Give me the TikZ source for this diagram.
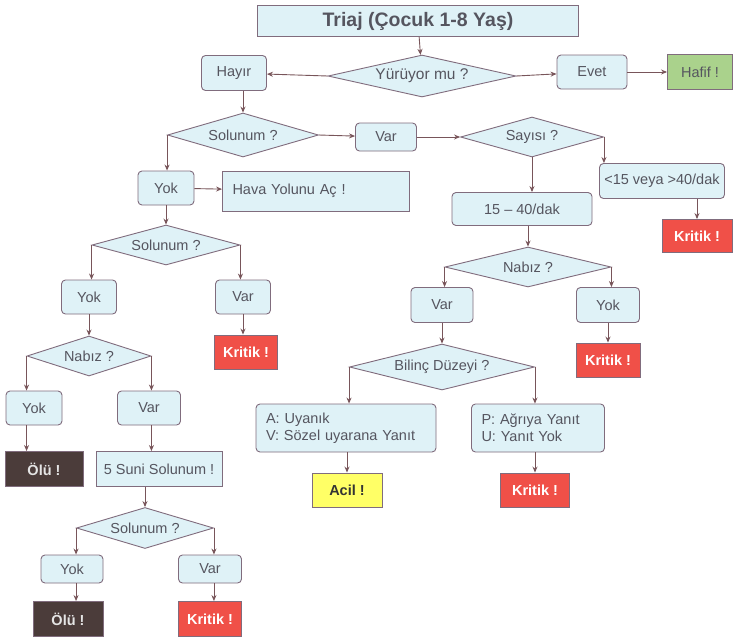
\documentclass[tikz,border=0pt]{standalone}
\usepackage{fontspec}
\setmainfont{Liberation Sans}
\usetikzlibrary{shapes.geometric, arrows.meta}
\definecolor{boxfill}{RGB}{223,242,247}
\definecolor{edge}{RGB}{128,108,125}
\definecolor{arrowc}{RGB}{120,85,90}
\definecolor{txt}{RGB}{85,85,95}
\definecolor{kritikred}{RGB}{240,80,72}
\definecolor{oludark}{RGB}{75,60,58}
\definecolor{acilyellow}{RGB}{255,255,102}
\definecolor{hafifgreen}{RGB}{170,210,140}
\newcommand\flowfont{\fontsize{14.5}{17}\selectfont}

\begin{document}
\begin{tikzpicture}[
    x=1pt, y=-1pt,
    box/.style={draw=edge, line width=0.9pt, fill=boxfill, rounded corners=4pt, text=txt, inner sep=0pt, font=\flowfont},
    dia/.style={diamond, aspect=4, draw=edge, line width=0.9pt, fill=boxfill, text=txt, inner sep=0pt, font=\flowfont},
    res/.style={draw=edge, line width=0.9pt, inner sep=0pt, font=\flowfont\bfseries},
    kritik/.style={res, fill=kritikred, text=white, minimum width=64, minimum height=34},
    olu/.style={res, fill=oludark, text=white!90!black},
    arr/.style={draw=arrowc, line width=0.9pt, -{Stealth[length=6pt, width=5pt]}}
]
  \fill[white] (0,0) rectangle (737,638);
  \useasboundingbox (0,0) rectangle (737,638);

  % --- TOP ---
  \node[box, rounded corners=0pt, minimum width=321, minimum height=31, font=\fontsize{19.5}{22}\selectfont\bfseries] (title) at (418,21) {Triaj (Çocuk 1-8 Yaş)};
  \node[dia, minimum width=188, minimum height=42, font=\fontsize{15.5}{18}\selectfont] (yuruyor) at (422,76) {Yürüyor mu ?};
  \node[box, minimum width=65, minimum height=35] (hayir) at (234,73) {Hayır};
  \node[box, minimum width=70, minimum height=34] (evet) at (592,72) {Evet};
  \node[res, fill=hafifgreen, text=txt, font=\flowfont, minimum width=65, minimum height=35] (hafif) at (700,72) {Hafif !};

  % --- FIRST SOLUNUM ---
  \node[dia, minimum width=151, minimum height=44] (sol1) at (243,135) {Solunum ?};
  \node[box, minimum width=61, minimum height=28] (var1) at (386,137) {Var};
  \node[box, minimum width=56, minimum height=34] (yok1) at (166,188) {Yok};
  \node[box, rounded corners=0pt, text width=167, align=left, inner xsep=10pt, minimum height=40] (hava) at (316,191) {Hava Yolunu Aç !};

  % --- RIGHT SECTION ---
  \node[dia, minimum width=143, minimum height=40] (sayisi) at (532,137) {Sayısı ?};
  \node[box, minimum width=125, minimum height=35] (hizli) at (662,181) {<15 veya >40/dak};
  \node[kritik, minimum width=70, minimum height=33] (kritikA) at (697,236) {Kritik !};
  \node[box, minimum width=140, minimum height=33] (normal) at (522,209) {15 – 40/dak};
  \node[dia, minimum width=166, minimum height=40] (nabiz2) at (528,267) {Nabız ?};
  \node[box, minimum width=62, minimum height=35] (var5) at (442,305) {Var};
  \node[box, minimum width=63, minimum height=35] (yok5) at (608,305) {Yok};
  \node[kritik] (kritikD) at (608,360) {Kritik !};
  \node[dia, minimum width=185, minimum height=46] (bilinc) at (442,367) {Bilinç Düzeyi ?};
  \node[box, text width=160, align=left, inner xsep=10pt, minimum height=48] (av) at (346,428) {A: Uyanık\\V: Sözel uyarana Yanıt};
  \node[box, text width=113, align=left, inner xsep=10pt, minimum height=48] (pu) at (538,428) {P: Ağrıya Yanıt\\U: Yanıt Yok};
  \node[res, fill=acilyellow, text=black!80, minimum width=70, minimum height=34] (acil) at (347,490) {Acil !};
  \node[kritik, minimum width=69] (kritikE) at (535,490) {Kritik !};

  % --- LEFT SECTION ---
  \node[dia, minimum width=148, minimum height=40] (sol2) at (166,245) {Solunum ?};
  \node[box, minimum width=55, minimum height=34] (yok2) at (89,297) {Yok};
  \node[box, minimum width=55, minimum height=34] (var2) at (243,297) {Var};
  \node[kritik, minimum width=63] (kritikB) at (246,352) {Kritik !};
  \node[dia, minimum width=124, minimum height=40] (nabiz1) at (89,356) {Nabız ?};
  \node[box, minimum width=56, minimum height=34] (yok3) at (34,408) {Yok};
  \node[box, minimum width=63, minimum height=34] (var3) at (149,408) {Var};
  \node[olu, minimum width=78, minimum height=35] (olu1) at (44,469) {Ölü !};
  \node[box, rounded corners=0pt, minimum width=126, minimum height=35] (suni) at (159,469) {5 Suni Solunum !};
  \node[dia, minimum width=137, minimum height=41] (sol3) at (145,528) {Solunum ?};
  \node[box, minimum width=62, minimum height=28] (yok4) at (72,569) {Yok};
  \node[box, minimum width=63, minimum height=28] (var4) at (210,569) {Var};
  \node[olu, minimum width=70, minimum height=35] (olu2) at (68,619) {Ölü !};
  \node[kritik, minimum width=63, minimum height=35] (kritikC) at (210,619) {Kritik !};

  % --- DRAWING EDGES ---

  % Top connections
  \draw[arr] (title) -- (yuruyor);
  \draw[arr] (yuruyor.west) -- (hayir);
  \draw[arr] (yuruyor.east) -- (evet);
  \draw[arr] (evet) -- (hafif);
  \draw[arr] (hayir.south -| sol1.north) -- (sol1.north);

  % Right connections
  \draw[arr] (sol1.east) -- (var1);
  \draw[arr] (var1) -- (sayisi.west);
  \draw[arr] (sayisi.east) -- (sayisi.east |- hizli.north);
  \draw[arr] (hizli.south -| kritikA.north) -- (kritikA.north);
  \draw[arr] (sayisi.south) -- (sayisi.south |- normal.north);
  \draw[arr] (normal.south -| nabiz2.north) -- (nabiz2.north);
  \draw[arr] (nabiz2.west) -- (nabiz2.west |- var5.north);
  \draw[arr] (nabiz2.east) -- (nabiz2.east |- yok5.north);
  \draw[arr] (yok5) -- (kritikD);
  \draw[arr] (var5) -- (bilinc.north);
  \draw[arr] (bilinc.west) -- (bilinc.west |- av.north);
  \draw[arr] (bilinc.east) -- (bilinc.east |- pu.north);
  \draw[arr] (av.south -| acil.north) -- (acil.north);
  \draw[arr] (pu.south -| kritikE.north) -- (kritikE.north);

  % Left connections
  \draw[arr] (sol1.west) -- (sol1.west |- yok1.north);
  \draw[arr] (yok1) -- (hava);
  \draw[arr] (yok1) -- (sol2.north);
  \draw[arr] (sol2.west) -- (sol2.west |- yok2.north);
  \draw[arr] (sol2.east) -- (sol2.east |- var2.north);
  \draw[arr] (var2.south) -- (var2.south |- kritikB.north);
  \draw[arr] (yok2) -- (nabiz1.north);
  \draw[arr] (nabiz1.west) -- (nabiz1.west |- yok3.north);
  \draw[arr] (nabiz1.east) -- (nabiz1.east |- var3.north);
  \draw[arr] (yok3.south -| nabiz1.west) -- (nabiz1.west |- olu1.north);
  \draw[arr] (var3.south -| nabiz1.east) -- (nabiz1.east |- suni.north);
  \draw[arr] (suni.south -| sol3.north) -- (sol3.north);
  \draw[arr] (sol3.west) -- (sol3.west |- yok4.north);
  \draw[arr] (sol3.east) -- (sol3.east |- var4.north);
  \draw[arr] (yok4.south -| sol3.west) -- (sol3.west |- olu2.north);
  \draw[arr] (var4.south -| sol3.east) -- (sol3.east |- kritikC.north);

\end{tikzpicture}
\end{document}
